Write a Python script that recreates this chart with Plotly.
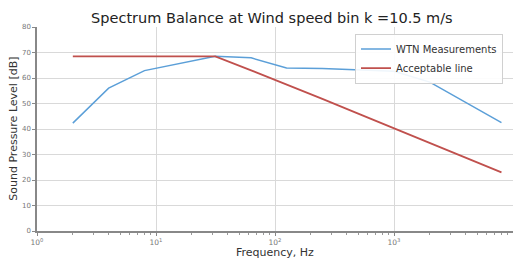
import plotly.graph_objects as go

freqs = [2, 4, 8, 16, 31.5, 63, 125, 250, 500, 1000, 2000, 4000, 8000]
wtn_levels = [42.3, 56.0, 62.9, 65.6, 68.5, 67.9, 63.9, 63.7, 63.2, 62.6, 58.4, 50.5, 42.5]
acceptable_levels = [68.5, 68.5, 68.5, 68.5, 68.5, 63.0, 57.5, 51.8, 46.0, 40.3, 34.5, 28.7, 23.0]

x_tickvals = [1, 10, 100, 1000, 10000]
x_ticktext = ["10<sup>0</sup>", "10<sup>1</sup>", "10<sup>2</sup>", "10<sup>3</sup>", "10<sup>4</sup>"]
x_minor_vals = [m * 10 ** k for k in range(4) for m in range(2, 10)]
y_tickvals = [0, 10, 20, 30, 40, 50, 60, 70, 80]

fig = go.Figure()
fig.add_trace(go.Scatter(x=freqs, y=wtn_levels, mode="lines", name="WTN Measurements",
                         line=dict(color="#5b9fd8", width=1.5)))
fig.add_trace(go.Scatter(x=freqs, y=acceptable_levels, mode="lines", name="Acceptable line",
                         line=dict(color="#c0504d", width=1.8)))

fig.update_layout(
    width=513, height=259,
    margin=dict(l=37, r=0, t=27, b=28, autoexpand=False),
    paper_bgcolor="white", plot_bgcolor="white",
    font=dict(family="DejaVu Sans", color="#333333"),
    title=dict(text="Spectrum Balance at Wind speed bin k =10.5 m/s", x=0.53, xanchor="center",
               y=0.93, yanchor="middle", font=dict(size=14.5, color="#222222")),
    legend=dict(x=0.979, y=0.968, xanchor="right", yanchor="top",
                bgcolor="rgba(255,255,255,0.9)", bordercolor="#d0d0d0", borderwidth=1,
                font=dict(size=10, color="#333333"), itemwidth=30,
                tracegroupgap=0),
    annotations=[
        dict(text="Frequency, Hz", xref="paper", yref="paper", x=0.5, y=-0.103,
             xanchor="center", yanchor="middle", showarrow=False,
             font=dict(size=11, color="#333333")),
        dict(text="Sound Pressure Level [dB]", xref="paper", yref="paper", x=-0.051, y=0.5,
             xanchor="center", yanchor="middle", textangle=-90, showarrow=False,
             font=dict(size=11, color="#333333")),
    ],
)
fig.update_xaxes(type="log", range=[0, 4], tickvals=x_tickvals, ticktext=x_ticktext,
                 automargin=False,
                 showgrid=True, gridcolor="#d9d9d9", gridwidth=1,
                 showline=True, linecolor="#888888", linewidth=1.5,
                 ticks="outside", ticklen=3, tickcolor="#888888",
                 tickfont=dict(size=7.5, color="#777777"),
                 minor=dict(tickmode="array", tickvals=x_minor_vals, ticks="outside", ticklen=2,
                            tickcolor="#999999", showgrid=False))
fig.update_yaxes(range=[0, 80], tickvals=y_tickvals, automargin=False,
                 showgrid=True, gridcolor="#d9d9d9", gridwidth=1,
                 showline=True, linecolor="#888888", linewidth=1.5,
                 ticks="outside", ticklen=3, tickcolor="#888888",
                 tickfont=dict(size=7, color="#777777"),
                 zeroline=False)

fig.write_html("out.html", config={"displayModeBar": False},
               post_script="document.body.style.margin='0';document.body.style.overflow='hidden';")
